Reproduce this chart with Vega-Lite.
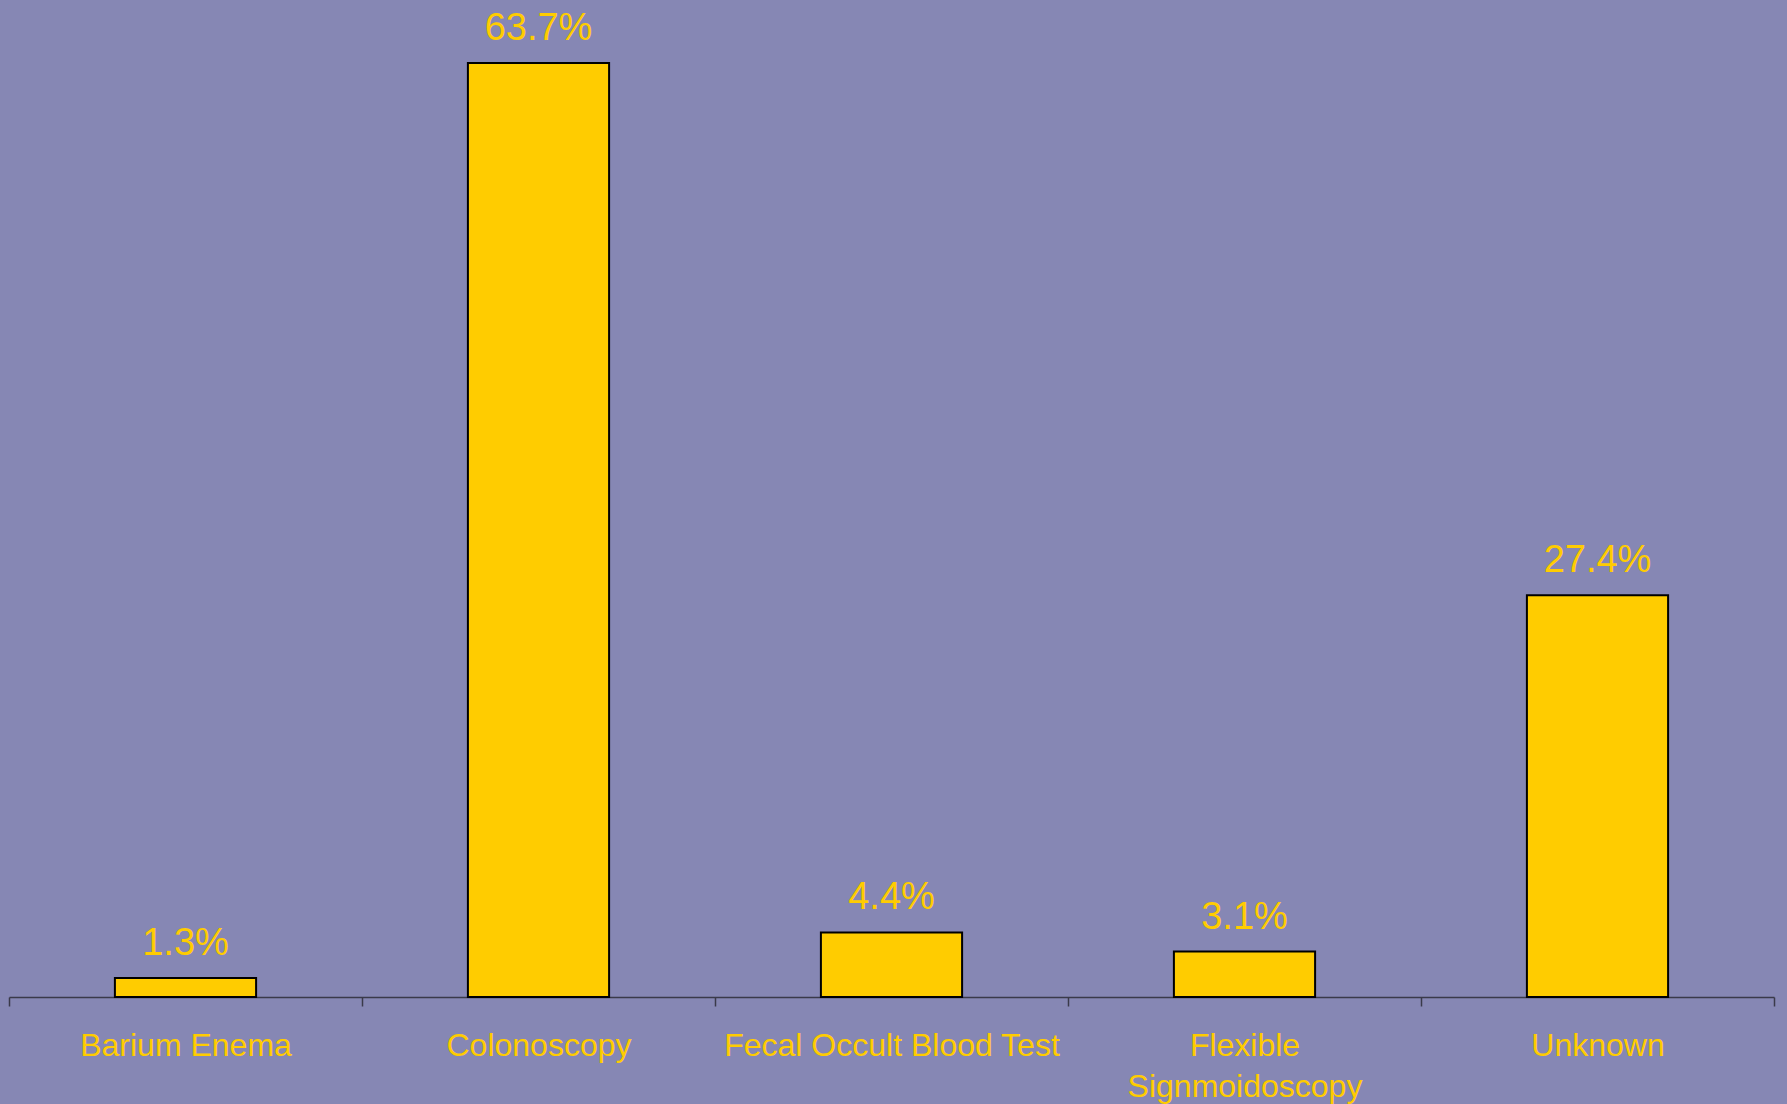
{
  "$schema": "https://vega.github.io/schema/vega-lite/v6.json",
  "width": 1765,
  "height": 997,
  "autosize": {"type": "none"},
  "padding": {"left": 9, "top": 0, "right": 13, "bottom": 107},
  "background": "#8687B4",
  "config": {"view": {"stroke": null}, "font": "Liberation Sans"},
  "data": {
    "values": [
      {"test": "Barium Enema", "share": 0.013},
      {"test": "Colonoscopy", "share": 0.637},
      {"test": "Fecal Occult Blood Test", "share": 0.044},
      {"test": "Flexible Signmoidoscopy", "share": 0.031},
      {"test": "Unknown", "share": 0.274}
    ]
  },
  "encoding": {
    "x": {
      "field": "test",
      "type": "nominal",
      "sort": null,
      "scale": {"paddingInner": 0, "paddingOuter": 0},
      "axis": {
        "title": null,
        "labelAngle": 0,
        "labelFont": "Liberation Sans",
        "labelFontSize": 32,
        "labelColor": "#FFCC00",
        "labelPadding": 24,
        "labelLineHeight": 41,
        "labelLimit": 400,
        "labelExpr": "datum.value == 'Flexible Signmoidoscopy' ? ['Flexible', 'Signmoidoscopy'] : datum.label",
        "tickBand": "extent",
        "tickSize": 9,
        "tickColor": "#3A3A4A",
        "tickWidth": 1.5,
        "domainColor": "#3A3A4A",
        "domainWidth": 1.5
      }
    },
    "y": {
      "field": "share",
      "type": "quantitative",
      "scale": {"domain": [0, 0.68], "nice": false},
      "axis": null
    }
  },
  "layer": [
    {
      "mark": {"type": "bar", "width": {"band": 0.4}, "fill": "#FFCC00", "stroke": "#000000", "strokeWidth": 2}
    },
    {
      "mark": {"type": "text", "font": "Liberation Sans", "fontSize": 38, "color": "#FFCC00", "baseline": "alphabetic", "dy": -23},
      "encoding": {"text": {"field": "share", "type": "quantitative", "format": ".1%"}}
    }
  ]
}
